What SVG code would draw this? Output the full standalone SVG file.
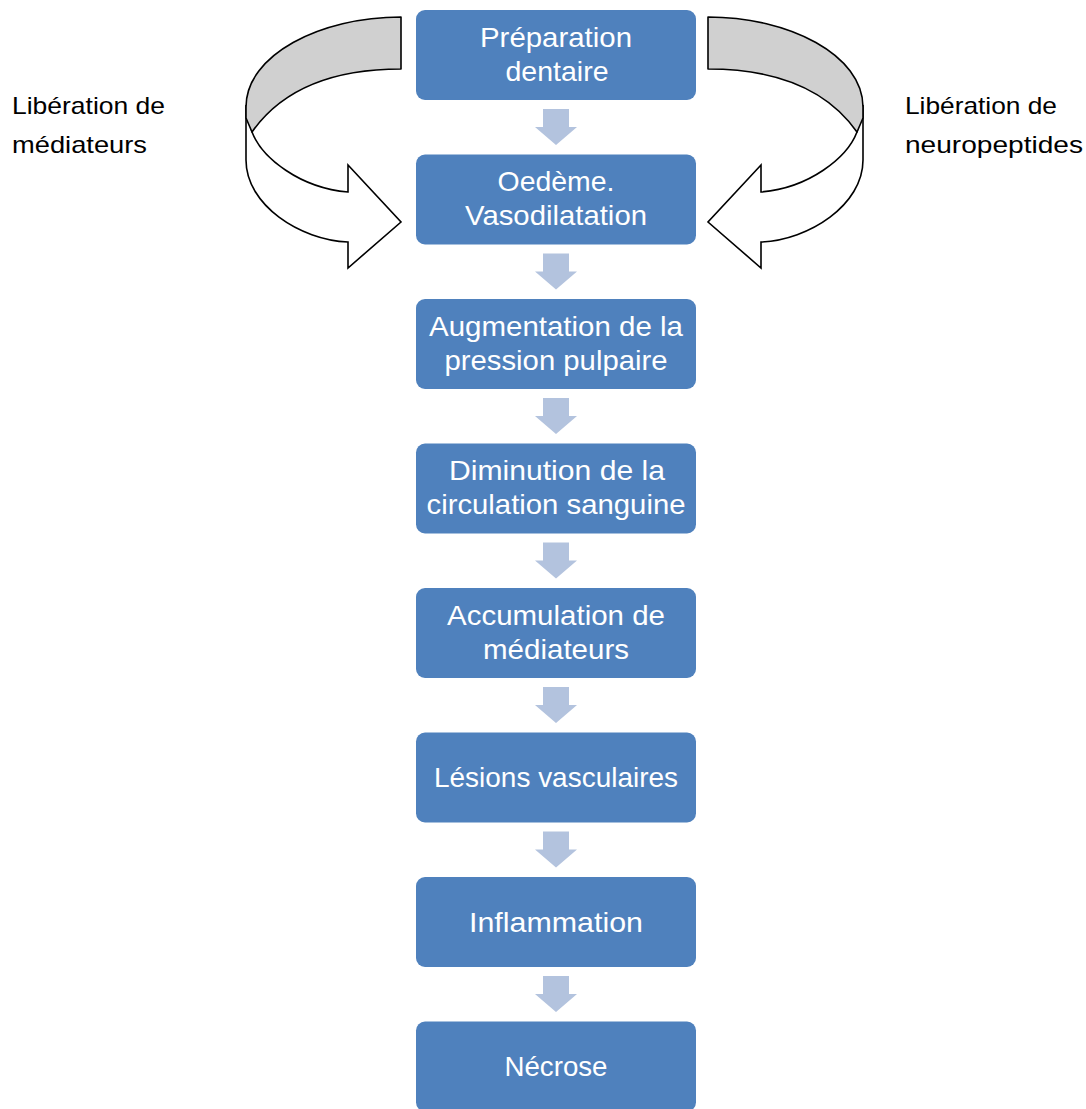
<svg xmlns="http://www.w3.org/2000/svg" width="1086" height="1109" viewBox="0 0 1086 1109">
<style>
.box{fill:#4f81bd}
.bt{font-family:"Liberation Sans",Arial,sans-serif;font-size:28px;fill:#ffffff;text-anchor:middle}
.lab{font-family:"Liberation Sans",Arial,sans-serif;font-size:24px;fill:#000000}
.step{fill:#b3c3de}
.band{fill:#d0d0d0;stroke:#000;stroke-width:1.6;stroke-linejoin:round}
.front{fill:#ffffff;stroke:#000;stroke-width:1.6;stroke-linejoin:miter}
</style>
<defs>
<path id="sa" d="M-13,0 H13 V18 H21 L0,36 L-21,18 H-13 Z"/>
<g id="curl">
<path class="front" d="M246,105 L246,160 C246,205 300,240 348,242 L348,268 L401,222 L348,165 L348,192 C300,188 262,158 252,132 Z"/>
<path class="band" d="M401,17 C320,17 246,55 246,107 L246,118 L252,132 C285,85 340,69 401,69 Z"/>
</g>
</defs>
<g id="connectors">
<use href="#sa" class="step" x="556" y="109"/>
<use href="#sa" class="step" x="556" y="253.5"/>
<use href="#sa" class="step" x="556" y="398"/>
<use href="#sa" class="step" x="556" y="542.5"/>
<use href="#sa" class="step" x="556" y="687"/>
<use href="#sa" class="step" x="556" y="831.5"/>
<use href="#sa" class="step" x="556" y="976"/>
<g id="curl-left"><use href="#curl"/></g>
<g id="curl-right" transform="translate(1109,0) scale(-1,1)"><use href="#curl"/></g>
</g>
<g id="n1"><rect class="box" x="416" y="10" width="280" height="90" rx="9"/>
<text class="bt" x="556" y="47" textLength="152" lengthAdjust="spacingAndGlyphs">Préparation</text>
<text class="bt" x="557" y="81" textLength="103" lengthAdjust="spacingAndGlyphs">dentaire</text></g>
<g id="n2"><rect class="box" x="416" y="154.5" width="280" height="90" rx="9"/>
<text class="bt" x="556" y="191" textLength="117" lengthAdjust="spacingAndGlyphs">Oedème.</text>
<text class="bt" x="556" y="225" textLength="182" lengthAdjust="spacingAndGlyphs">Vasodilatation</text></g>
<g id="n3"><rect class="box" x="416" y="299" width="280" height="90" rx="9"/>
<text class="bt" x="556" y="336" textLength="254" lengthAdjust="spacingAndGlyphs">Augmentation de la</text>
<text class="bt" x="556" y="370" textLength="223" lengthAdjust="spacingAndGlyphs">pression pulpaire</text></g>
<g id="n4"><rect class="box" x="416" y="443.5" width="280" height="90" rx="9"/>
<text class="bt" x="557" y="480" textLength="216" lengthAdjust="spacingAndGlyphs">Diminution de la</text>
<text class="bt" x="556" y="514" textLength="259" lengthAdjust="spacingAndGlyphs">circulation sanguine</text></g>
<g id="n5"><rect class="box" x="416" y="588" width="280" height="90" rx="9"/>
<text class="bt" x="556" y="625" textLength="218" lengthAdjust="spacingAndGlyphs">Accumulation de</text>
<text class="bt" x="556" y="659" textLength="146" lengthAdjust="spacingAndGlyphs">médiateurs</text></g>
<g id="n6"><rect class="box" x="416" y="732.5" width="280" height="90" rx="9"/>
<text class="bt" x="556" y="787" textLength="244" lengthAdjust="spacingAndGlyphs">Lésions vasculaires</text></g>
<g id="n7"><rect class="box" x="416" y="877" width="280" height="90" rx="9"/>
<text class="bt" x="556" y="931.5" textLength="174" lengthAdjust="spacingAndGlyphs">Inflammation</text></g>
<g id="n8"><rect class="box" x="416" y="1021.5" width="280" height="90" rx="9"/>
<text class="bt" x="556" y="1076" textLength="103" lengthAdjust="spacingAndGlyphs">Nécrose</text></g>
<g id="label-left">
<text class="lab" x="12" y="114" textLength="153" lengthAdjust="spacingAndGlyphs">Libération de</text>
<text class="lab" x="12" y="153" textLength="135" lengthAdjust="spacingAndGlyphs">médiateurs</text></g>
<g id="label-right">
<text class="lab" x="905" y="114" textLength="152" lengthAdjust="spacingAndGlyphs">Libération de</text>
<text class="lab" x="905" y="153" textLength="178" lengthAdjust="spacingAndGlyphs">neuropeptides</text></g>
</svg>
